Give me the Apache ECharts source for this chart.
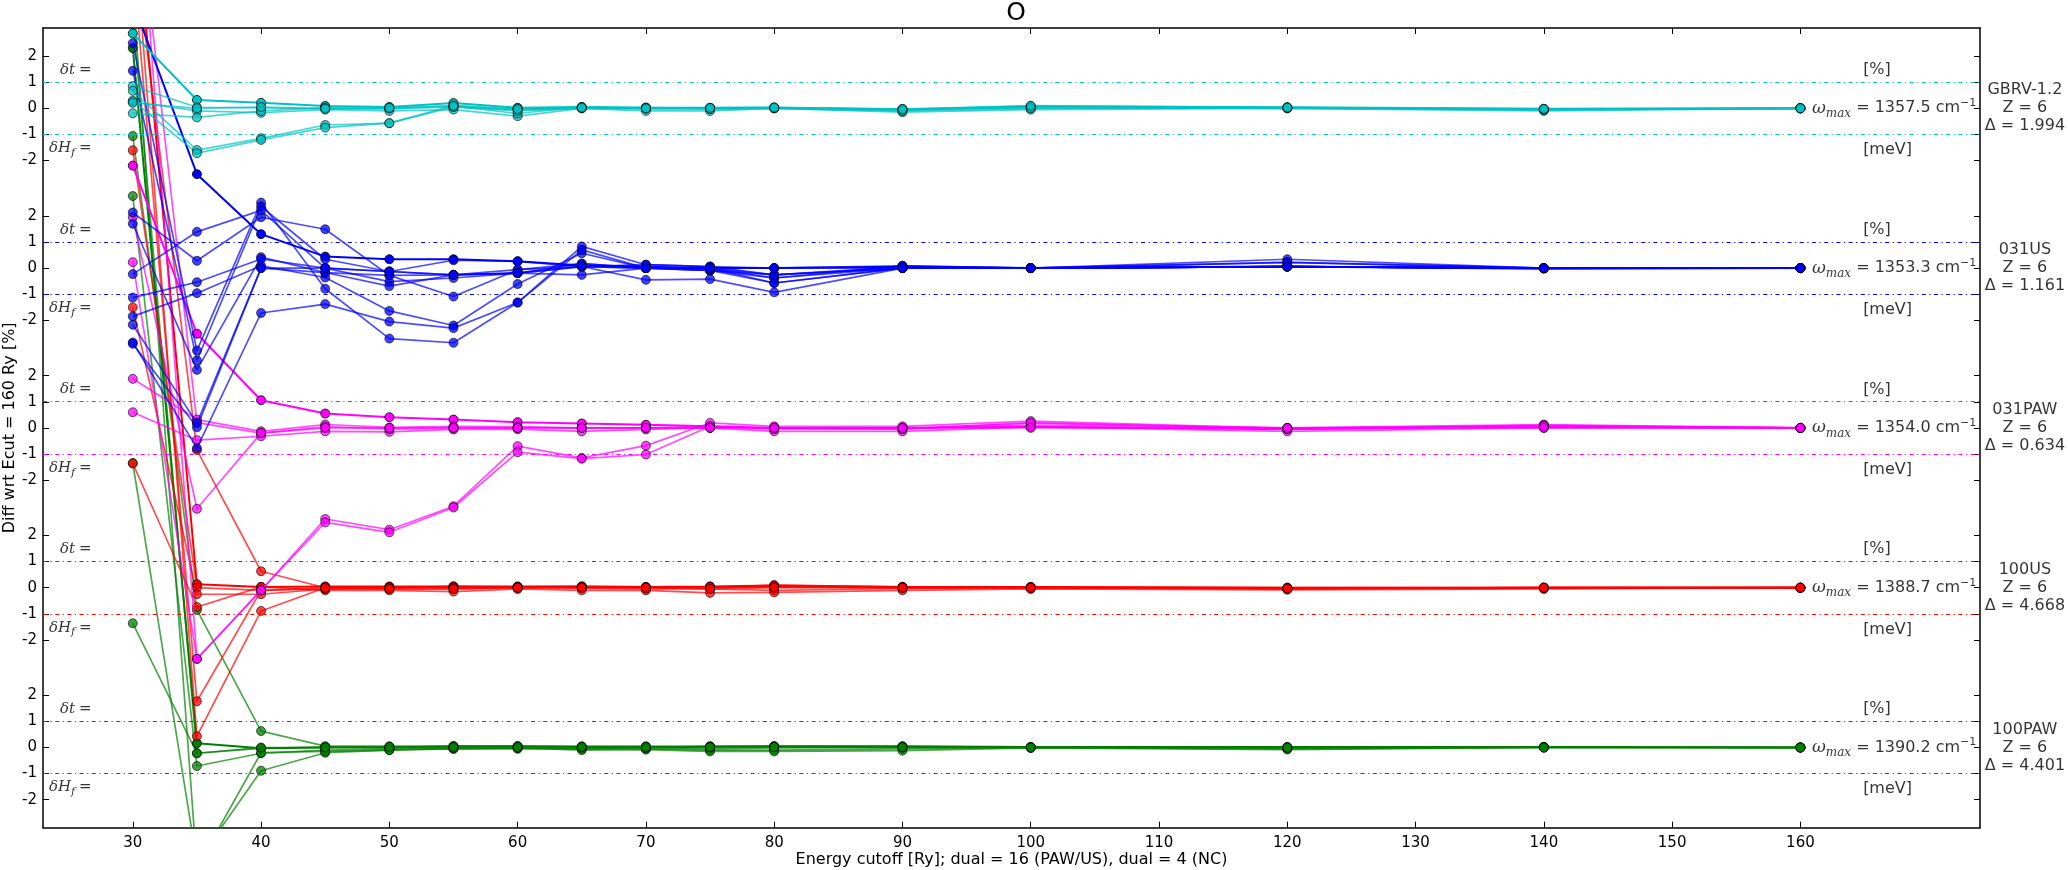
<!DOCTYPE html>
<html>
<head>
<meta charset="utf-8">
<script src="https://cdn.jsdelivr.net/npm/echarts@6/dist/echarts.min.js"></script>
<style>
html,body{margin:0;padding:0;background:#fff;}
#c{width:2068px;height:870px;}
</style>
</head>
<body>
<div id="c"></div>
<script>
// ---------------- data ----------------
const energies = [30, 35, 40, 45, 50, 55, 60, 65, 70, 75, 80, 90, 100, 120, 140, 160];
const xTicks = [30, 40, 50, 60, 70, 80, 90, 100, 110, 120, 130, 140, 150, 160];
const yTickSteps = [-2, -1, 0, 1, 2];

// deviations (band-relative units) for each pseudopotential, one row per quantity
const paw100Lines = [
  [26.8, 0.16, -0.03, 0.0, 0.0, 0.05, 0.05, 0.02, 0.02, 0.05, 0.05, 0.05, 0.02, 0.02, 0.02, 0],
  [4.76, -0.22, -0.03, 0.02, 0.02, 0.0, 0.0, -0.05, 0.0, -0.05, -0.02, 0.0, 0.0, -0.02, 0.02, 0],
  [21.13, -0.71, -0.22, -0.1, -0.05, -0.05, -0.05, -0.05, -0.05, -0.1, -0.1, -0.05, 0.0, -0.05, 0.0, 0],
  [10.9, -4.4, -0.89, -0.2, -0.1, -0.05, -0.02, -0.1, -0.08, -0.15, -0.15, -0.12, -0.02, -0.08, 0.0, 0],
  [23.43, 5.27, 0.63, 0.05, 0.05, 0.05, 0.05, 0.05, 0.05, 0.02, 0.05, 0.03, 0.02, 0.0, 0.02, 0],
  [29.0, -4.6, -0.2, -0.15, -0.1, -0.02, -0.02, 0.0, -0.02, 0.0, 0.02, 0.0, 0.0, 0.0, 0.0, 0],
  [28.0, -0.22, 0.0, 0.0, 0.02, 0.02, 0.02, 0.02, 0.02, 0.02, 0.02, 0.02, 0.0, 0.0, 0.0, 0]
];
const us100Lines = [
  [27.0, 0.13, 0.03, 0.05, 0.05, 0.05, 0.05, 0.05, 0.03, 0.05, 0.08, 0.03, 0.03, 0.0, 0.0, 0],
  [16.76, 0.0, -0.1, 0.0, 0.0, 0.03, 0.03, 0.0, 0.0, 0.0, 0.05, 0.0, 0.0, -0.03, 0.0, 0],
  [10.74, -0.25, -0.25, -0.05, -0.05, -0.05, 0.0, -0.02, -0.05, -0.05, -0.1, -0.03, 0.0, -0.05, -0.02, 0],
  [4.76, -0.74, 0.03, -0.1, -0.1, -0.15, -0.05, -0.1, -0.1, -0.2, -0.18, -0.1, -0.05, -0.08, -0.05, 0],
  [25.0, 5.27, 0.63, 0.0, 0.0, 0.05, 0.03, 0.05, 0.03, 0.0, 0.1, 0.03, 0.03, 0.0, 0.0, 0],
  [24.0, -4.35, -0.1, -0.05, 0.0, 0.0, 0.0, 0.03, 0.0, 0.03, 0.02, 0.0, 0.0, -0.03, 0.0, 0],
  [26.0, -5.69, -0.89, 0.0, -0.05, -0.05, 0.0, 0.0, 0.0, -0.05, 0.0, 0.0, 0.0, -0.03, 0.0, 0]
];
const paw031Lines = [
  [10.05, 3.61, 1.06, 0.55, 0.41, 0.32, 0.22, 0.17, 0.12, 0.06, 0.0, 0.0, 0.04, -0.05, 0.05, 0],
  [1.88, 0.32, -0.13, 0.13, 0.02, 0.06, 0.05, 0.0, 0.0, 0.06, 0.0, -0.04, 0.17, 0.0, 0.13, 0],
  [0.60, -0.47, -0.32, -0.13, -0.15, -0.06, -0.05, -0.13, -0.06, 0.0, -0.13, -0.13, 0.04, -0.13, 0.0, 0],
  [8.07, -3.1, -0.2, 0.05, -0.05, 0.0, 0.0, 0.0, 0.0, 0.0, 0.0, 0.0, 0.1, 0.0, 0.05, 0],
  [6.35, -8.85, -6.22, -3.49, -3.9, -3.0, -0.7, -1.15, -0.68, 0.19, 0.06, 0.06, 0.26, -0.02, 0.1, 0],
  [24.0, -8.85, -6.22, -3.62, -4.0, -3.05, -0.93, -1.18, -1.02, 0.06, -0.05, -0.05, 0.2, -0.05, 0.08, 0],
  [22.0, 0.2, -0.2, 0.0, 0.0, 0.0, 0.0, 0.0, 0.0, 0.0, 0.0, 0.0, 0.0, 0.0, 0.0, 0]
];
const us031Lines = [
  [10.2, 3.6, 1.30, 0.44, 0.34, 0.34, 0.26, 0.10, 0.05, 0.0, 0.0, 0.05, 0.0, 0.06, -0.02, 0],
  [8.62, -3.16, 2.51, -0.79, -2.7, -2.86, -1.32, 0.83, 0.13, 0.06, -0.26, 0.05, 0.0, 0.34, 0.0, 0],
  [7.56, -3.54, 2.36, 0.34, -0.13, -0.26, -0.19, 0.17, 0.0, -0.09, -0.38, 0.09, 0.0, 0.22, 0.0, 0],
  [2.13, 0.28, 1.95, 1.49, -0.28, -1.09, -0.06, 0.06, 0.0, 0.0, -0.57, 0.0, 0.0, 0.06, 0.0, 0],
  [-0.23, 1.39, 2.21, 0.0, -0.52, -0.38, -0.19, 0.06, 0.13, 0.06, 0.0, 0.09, 0.0, 0.22, 0.0, 0],
  [1.70, -3.9, 0.42, -0.17, -0.69, -0.26, -0.06, 0.17, 0.0, -0.09, -0.26, 0.0, 0.0, 0.06, 0.0, 0],
  [-1.13, -0.54, 0.35, 0.0, -0.13, 0.3, 0.26, 0.06, 0.0, 0.0, -0.38, 0.0, 0.0, 0.06, 0.0, 0],
  [-1.85, -0.96, 0.09, -0.36, -1.64, -2.2, -0.61, 0.57, 0.0, -0.09, -0.57, 0.0, 0.0, 0.06, 0.0, 0],
  [-2.17, -5.94, 0.0, -0.17, -0.28, -0.26, -0.19, 0.06, -0.45, -0.42, -0.93, 0.0, 0.0, 0.06, 0.0, 0],
  [-2.85, -6.9, -1.72, -1.38, -2.05, -2.3, -1.32, 0.7, 0.0, 0.0, -0.26, 0.0, 0.0, 0.06, 0.0, 0],
  [-2.9, -6.1, 0.0, 0.0, -0.13, -0.26, -0.19, -0.26, 0.0, 0.0, 0.0, 0.0, 0.0, 0.06, 0.0, 0]
];
const gbrvLines = [
  [2.87, 0.32, 0.21, 0.09, 0.05, 0.2, 0.02, 0.05, 0.02, 0.02, 0.03, -0.05, 0.08, 0.04, -0.02, 0],
  [0.85, 0.04, 0.02, 0.0, -0.02, 0.05, -0.05, 0.02, 0.0, 0.0, 0.02, -0.02, 0.02, 0.02, -0.05, 0],
  [0.25, -0.1, -0.17, -0.05, -0.1, -0.05, -0.3, 0.0, -0.1, -0.1, 0.0, -0.15, -0.05, 0.0, -0.1, 0],
  [-0.19, -0.35, -0.1, 0.02, 0.0, 0.08, -0.2, 0.05, 0.03, 0.0, 0.0, -0.08, 0.05, 0.0, -0.05, 0],
  [0.67, -1.6, -1.15, -0.64, -0.57, 0.1, -0.05, 0.02, 0.02, 0.0, 0.02, -0.05, 0.05, 0.03, -0.03, 0],
  [0.29, -1.72, -1.21, -0.74, -0.57, 0.05, -0.1, 0.0, -0.02, -0.03, 0.0, -0.1, 0.0, 0.02, -0.05, 0],
  [0.21, 0.0, 0.05, -0.02, 0.02, 0.1, -0.02, 0.03, 0.0, 0.02, 0.03, -0.03, 0.1, 0.03, -0.02, 0]
];

const bandNames = ['100PAW', '100US', '031PAW', '031US', 'GBRV-1.2'];
const bandZ = [6, 6, 6, 6, 6];
const bandDelta = ['4.401', '4.668', '0.634', '1.161', '1.994'];
const bandOmega = ['1390.2', '1388.7', '1354.0', '1353.3', '1357.5'];
const bandColors = ['#008000', '#ff0000', '#ff00ff', '#0000ff', '#00c2c2'];
const bandLines = [paw100Lines, us100Lines, paw031Lines, us031Lines, gbrvLines];

// ---------------- layout / style ----------------
const S = 6.123;            // vertical spacing between bands (axis units)
const Y_MIN = -3.073, Y_MAX = 4 * S + 3.077;
const X_MIN = 23, X_MAX = 174;
const FONT = 'DejaVu Sans';
const SERIF = 'DejaVu Serif';

const yTicks = [];
for (let k = 0; k < 5; k++) yTickSteps.forEach(d => yTicks.push(+(k * S + d).toFixed(4)));
function yLabel(v) {
  const k = Math.round(v / S);
  const d = Math.round(v - k * S);
  return d < 0 ? '-' + Math.abs(d) : String(d);
}

const series = [];
bandLines.forEach((lines, k) => {
  const off = k * S;
  const col = bandColors[k];
  lines.forEach((vals, i) => {
    const main = i === 0;
    series.push({
      type: 'line',
      data: energies.map((e, j) => [e, off + vals[j]]),
      symbol: 'circle',
      symbolSize: 9,
      clip: true,
      silent: true,
      z: 3 + k,
      lineStyle: { color: col, width: main ? 2 : 1.7, opacity: main ? 1 : 0.7 },
      itemStyle: { color: col, borderColor: '#000', borderWidth: 0.8, opacity: main ? 1 : 0.75 }
    });
  });
  // dash-dot guide lines at +-1
  series.push({
    type: 'line', data: [], silent: true, z: 2,
    markLine: {
      silent: true, symbol: ['none', 'none'], animation: false,
      label: { show: false },
      lineStyle: { color: col, width: 1, type: [4, 3.5, 1.2, 3.5], opacity: 1 },
      data: [{ yAxis: off + 1 }, { yAxis: off - 1 }]
    }
  });
});

// text annotations, anchored in data coordinates
const mathRich = {
  m: { fontFamily: SERIF, fontStyle: 'italic', fontSize: 15, color: '#000' },
  e: { fontFamily: SERIF, fontSize: 15, color: '#000' },
  s: { fontFamily: SERIF, fontStyle: 'italic', fontSize: 11, color: '#000', padding: [10, 0, 0, 0] },
  w: { fontFamily: SERIF, fontStyle: 'italic', fontSize: 17, color: '#000' },
  x: { fontFamily: SERIF, fontStyle: 'italic', fontSize: 12, color: '#000', padding: [11, 0, 0, 0] },
  t: { fontFamily: FONT, fontSize: 16, color: '#000' },
  p: { fontFamily: FONT, fontSize: 11, color: '#000', padding: [0, 0, 10, 0] }
};
const textItems = [];
bandNames.forEach((nm, k) => {
  const off = k * S;
  textItems.push({ value: [26.82, off + 1.47], label: { position: 'left', formatter: '{m|δt} {e|=}' } });
  textItems.push({ value: [26.82, off - 1.53], label: { position: 'left', formatter: '{m|δH}{s|f} {e|=}' } });
  textItems.push({ value: [164.85, off + 1.47], label: { position: 'right', formatter: '{t|[%]}' } });
  textItems.push({ value: [164.85, off - 1.6], label: { position: 'right', formatter: '{t|[meV]}' } });
  textItems.push({ value: [160, off], label: { position: 'right', distance: 11,
    formatter: '{w|ω}{x|max}{t| = ' + bandOmega[k] + ' cm}{p|−1}' } });
  textItems.push({ value: [177.5, off], label: { position: 'inside', align: 'center',
    formatter: nm + '\nZ = ' + bandZ[k] + '\nΔ = ' + bandDelta[k],
    fontFamily: FONT, fontSize: 16, lineHeight: 18, color: '#000' } });
});
series.push({
  type: 'scatter', data: textItems, symbol: 'circle', symbolSize: 1, clip: false, silent: true, z: 20,
  itemStyle: { color: 'rgba(0,0,0,0)' },
  label: { show: true, distance: 0, rich: mathRich, color: '#000' },
  labelLayout: { hideOverlap: false }
});

const axisLineStyle = { show: true, onZero: false, lineStyle: { color: '#000', width: 1.5 } };
const tickStyle = { show: true, inside: true, length: 6, lineStyle: { color: '#000', width: 1 } };

const option = {
  animation: false,
  backgroundColor: '#fff',
  textStyle: { fontFamily: FONT },
  title: {
    text: 'O', left: 1011, top: -4, textAlign: 'center',
    textStyle: { fontFamily: FONT, fontSize: 25, fontWeight: 'normal', color: '#000' }
  },
  grid: { left: 43, right: 88, top: 28, bottom: 42.3, containLabel: false, outerBoundsMode: 'none' },
  xAxis: [{
    type: 'value', min: X_MIN, max: X_MAX, position: 'bottom',
    axisLine: axisLineStyle,
    axisTick: Object.assign({ customValues: xTicks }, tickStyle),
    axisLabel: { customValues: xTicks, fontSize: 15, color: '#000', margin: 8, fontFamily: FONT },
    splitLine: { show: false },
    name: 'Energy cutoff [Ry]; dual = 16 (PAW/US), dual = 4 (NC)',
    nameLocation: 'middle', nameGap: 24, nameMoveOverlap: false,
    nameTextStyle: { fontSize: 16, color: '#000', fontFamily: FONT }
  }, {
    type: 'value', min: X_MIN, max: X_MAX, position: 'top',
    axisLine: axisLineStyle,
    axisTick: Object.assign({ customValues: xTicks }, tickStyle),
    axisLabel: { show: false }, splitLine: { show: false }
  }],
  yAxis: [{
    type: 'value', min: Y_MIN, max: Y_MAX, position: 'left',
    axisLine: axisLineStyle,
    axisTick: Object.assign({ customValues: yTicks }, tickStyle),
    axisLabel: { customValues: yTicks, formatter: yLabel, fontSize: 15, color: '#000', margin: 6, fontFamily: FONT },
    splitLine: { show: false },
    name: 'Diff wrt Ecut = 160 Ry [%]', nameLocation: 'middle', nameGap: 25, nameRotate: 90,
    nameMoveOverlap: false,
    nameTextStyle: { fontSize: 16, color: '#000', fontFamily: FONT }
  }, {
    type: 'value', min: Y_MIN, max: Y_MAX, position: 'right',
    axisLine: axisLineStyle,
    axisTick: Object.assign({ customValues: yTicks }, tickStyle),
    axisLabel: { show: false }, splitLine: { show: false }
  }],
  series: series
};

const chart = echarts.init(document.getElementById('c'), null, { renderer: 'canvas' });
chart.setOption(option);
</script>
</body>
</html>
